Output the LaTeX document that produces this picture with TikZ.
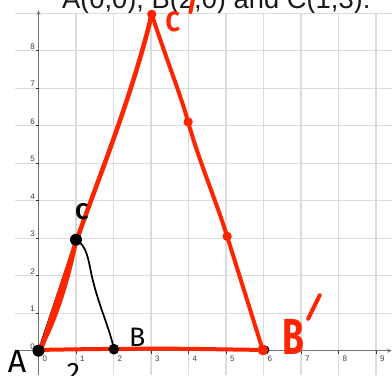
\documentclass[tikz,border=0pt]{standalone}
\usepackage{fontspec}
\setmainfont{Liberation Sans}
\newfontfamily\hand{Fira Sans}
\usetikzlibrary{arrows.meta}
\definecolor{pen}{RGB}{255,36,0}
\definecolor{gridc}{RGB}{220,220,220}
\definecolor{axisc}{RGB}{115,115,115}
\definecolor{tickc}{RGB}{60,60,60}
\definecolor{titlec}{RGB}{25,25,25}
\begin{document}
\begin{tikzpicture}[x=28.125pt,y=28.125pt,
  gridline/.style={gridc, line width=0.8pt},
  axisline/.style={axisc, line width=0.8pt, -{Stealth[length=3.5pt,width=3pt]}},
  tickmark/.style={black!80, line width=0.6pt},
  ticklbl/.style={font=\fontsize{6}{6}\selectfont, text=tickc, inner sep=0pt},
  redpen/.style={pen, line width=3.4pt, line cap=round, line join=round},
  blackpen/.style={black, line width=1.3pt, line cap=round, line join=round},
  primestroke/.style={pen, line width=3pt, line cap=round},
  reddot/.style={circle, fill=pen, inner sep=0pt, minimum size=7pt},
  blackdot/.style={circle, fill=black, inner sep=0pt, minimum size=9pt},
  handlbl/.style={inner sep=0pt}]
\useasboundingbox (-1.0267,-0.648) rectangle (9.4267,9.352);
\clip (-1.0267,-0.648) rectangle (9.4267,9.352);
\fill[white] (-1.0267,-0.648) rectangle (9.4267,9.352);

% title (cut off at the top)
\node[anchor=base, font=\fontsize{20.5}{20}\selectfont, text=titlec, inner sep=0pt] (title) at (4.74,9.112) {A(0,0), B(2,0) and C(1,3).};

% grid
\foreach \k in {1,...,9} {
  \draw[gridline] (-0.62,\k) -- (9.43,\k);
  \draw[gridline] (\k,-0.65) -- (\k,9);
}
% axes
\draw[axisline] (-0.62,0) -- (9.42,0);
\draw[axisline] (0,-0.65) -- (0,9.08);
\foreach \k in {1,...,9} {
  \draw[tickmark] (\k,0) -- (\k,-0.08);
  \node[ticklbl, anchor=north west] (xl\k) at (\k+0.1,-0.13) {\k};
}
\foreach \k in {1,...,8} {
  \draw[tickmark] (0,\k) -- (-0.08,\k);
  \node[ticklbl, anchor=south east] (yl\k) at (-0.09,\k+0.03) {\k};
}
\node[ticklbl, anchor=north west] (xl0) at (0.1,-0.13) {0};
\node[ticklbl, anchor=south east] (yl0) at (-0.09,0.03) {0};

% points
\coordinate (A) at (0,0);
\coordinate (B) at (2.01,0.04);
\coordinate (C) at (1,2.96);
\coordinate (Ap) at (0.02,0.02);
\coordinate (Bp) at (5.98,0.02);
\coordinate (Cp) at (3.02,8.97);
\coordinate (M1) at (3.99,6.1);
\coordinate (M2) at (5.03,3.05);

% black triangle sides
\draw[blackpen] (A) -- (C);
\draw[blackpen] (C) .. controls (1.3,2.8) and (1.33,2.4) .. (1.42,2.0)
  .. controls (1.6,1.2) and (1.9,0.6) .. (B);

% red triangle
\draw[redpen] (Ap) .. controls (0.55,1.0) and (0.85,2.2) .. (C);
\draw[redpen] ([xshift=1.2pt]Ap) -- ([xshift=0.6pt]C) .. controls (1.6,4.6) and (2.5,6.8) .. (Cp);
\draw[redpen, line width=3pt] (Cp) .. controls (3.4,7.8) and (3.8,6.8) .. (M1)
  .. controls (4.3,5.0) and (4.7,4.1) .. (M2) -- (Bp);
\draw[redpen, line width=3pt] (Ap) .. controls (1.5,0.05) and (3,0.06) .. (4,0.05) -- (Bp);

% dots
\node[blackdot, minimum size=7pt] (Bpb) at ([xshift=1.5pt]Bp) {};
\node[reddot] (Cpd) at (Cp) {};
\node[reddot] (M1d) at (M1) {};
\node[reddot] (M2d) at (M2) {};
\node[reddot, minimum size=8pt] (Bpd) at (Bp) {};
\node[blackdot] (Ad) at (A) {};
\node[blackdot, minimum size=8pt] (Bd) at (B) {};
\node[blackdot] (Cd) at (C) {};

% hand-written labels
\node[handlbl, font=\hand\fontsize{24}{24}\selectfont] (LA) at (-0.57,-0.30) {A};
\node[handlbl, font=\hand\fontsize{20}{20}\selectfont] (LB) at (2.63,0.37) {B};
\node[handlbl, font=\hand\bfseries\fontsize{17}{17}\selectfont] (LC) at (1.16,3.70) {C};
\node[handlbl, font=\hand\fontsize{20}{20}\selectfont] (L2) at (0.93,-0.58) {2};
\node[handlbl, font=\hand\bfseries\fontsize{21}{21}\selectfont, text=pen] (LCp) at (3.58,8.76) {\scalebox{0.9}[1]{C}};
\node[handlbl, font=\hand\bfseries\fontsize{38}{38}\selectfont, text=pen] (LBp) at (6.79,0.36) {\scalebox{0.7}[1]{B}};
\coordinate (pc1) at (4.12,9.38);
\coordinate (pc2) at (4.05,9.03);
\draw[primestroke] (pc1) -- (pc2);
\coordinate (pb1) at (7.5,1.48);
\coordinate (pb2) at (7.19,0.85);
\draw[primestroke] (pb1) -- (pb2);
\end{tikzpicture}
\end{document}
